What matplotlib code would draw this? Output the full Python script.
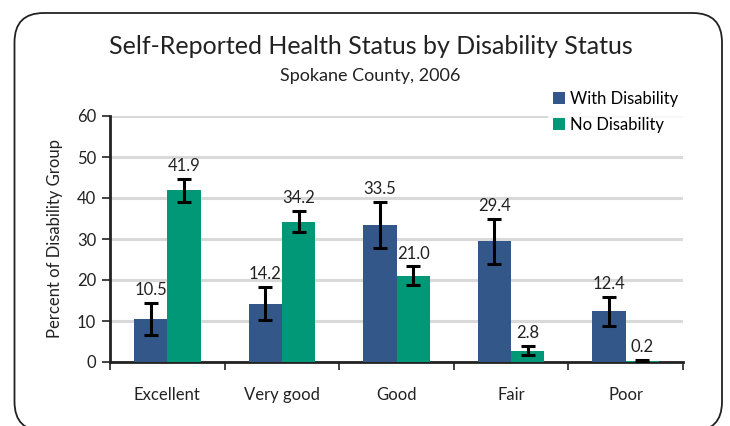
import matplotlib
matplotlib.use("Agg")
import matplotlib.pyplot as plt
import numpy as np
from matplotlib.patches import FancyBboxPatch

plt.rcParams['font.family'] = ['Lato', 'DejaVu Sans']

categories = ["Excellent", "Very good", "Good", "Fair", "Poor"]
with_dis = [10.5, 14.2, 33.5, 29.4, 12.4]
no_dis = [41.9, 34.2, 21.0, 2.8, 0.2]
with_err = [3.8, 4.0, 5.6, 5.4, 3.5]
no_err = [2.8, 2.6, 2.3, 1.0, 0.2]
series_names = ["With Disability", "No Disability"]
yticks = [0, 10, 20, 30, 40, 50, 60]

blue = "#34578A"
green = "#009877"

fig = plt.figure(figsize=(7.3, 4.26), dpi=100)
# rounded frame (bottom edge runs just past the image)
frame = FancyBboxPatch((14.5 / 730, 1 - 431 / 426), (722 - 14.5) / 730, (431 - 13) / 426,
                       boxstyle="round,pad=0,rounding_size=0.04",
                       transform=fig.transFigure, fill=False, edgecolor="#222222",
                       linewidth=1.3, mutation_aspect=730 / 426)
fig.patches.append(frame)

ax = fig.add_axes([110 / 730, 1 - 362 / 426, (683 - 110) / 730, (362 - 116) / 426])
x = np.arange(len(categories))
w = 0.29
b1 = ax.bar(x - w / 2, with_dis, w, color=blue, label=series_names[0], zorder=3)
b2 = ax.bar(x + w / 2, no_dis, w, color=green, label=series_names[1], zorder=3)
ekw = dict(fmt="none", ecolor="black", elinewidth=2.2, capsize=5, capthick=2.2, zorder=4)
ax.errorbar(x - w / 2, with_dis, yerr=with_err, **ekw)
ax.errorbar(x + w / 2, no_dis, yerr=no_err, **ekw)
for xi, v, e in zip(x - w / 2, with_dis, with_err):
    ax.text(xi, v + e + 1.2, f"{v:.1f}", ha="center", va="bottom", fontsize=12, color="#222222", zorder=5)
for xi, v, e in zip(x + w / 2, no_dis, no_err):
    ax.text(xi, v + e + 1.2, f"{v:.1f}", ha="center", va="bottom", fontsize=12, color="#222222", zorder=5)

ax.set_xlim(-0.5, len(categories) - 0.5)
ax.set_ylim(0, 60)
ax.set_yticks(yticks)
ax.set_yticklabels([str(t) for t in yticks], fontsize=12, color="#222222")
ax.yaxis.grid(True, color="#d9d9d9", linewidth=2.2, zorder=0)
ax.set_axisbelow(True)
ax.set_xticks(x)
ax.set_xticklabels(categories, fontsize=12, color="#222222")
ax.tick_params(axis="x", length=0, pad=18)
ax.set_xticks(np.arange(-0.5, len(categories)), minor=True)
ax.tick_params(axis="x", which="minor", length=6, width=1.2, direction="out", color="#222222")
ax.tick_params(axis="y", length=6, width=1.2, direction="out", color="#222222", pad=4)
for s in ["top", "right"]:
    ax.spines[s].set_visible(False)
ax.spines["left"].set_linewidth(2)
ax.spines["bottom"].set_linewidth(2)
ax.spines["left"].set_color("#222222")
ax.spines["bottom"].set_color("#222222")
ax.set_ylabel("Percent of Disability Group", fontsize=12, color="#222222", labelpad=10)

fig.text(0.5 * (108 + 633) / 730, 1 - 47 / 426, "Self-Reported Health Status by Disability Status",
         ha="center", va="center", fontsize=18, color="#222222")
fig.text(0.5 * (108 + 633) / 730, 1 - 76 / 426, "Spokane County, 2006",
         ha="center", va="center", fontsize=13, color="#222222")

leg = fig.legend(handles=[b1, b2], loc="upper left", bbox_to_anchor=(548 / 730, 1 - 86 / 426),
                 frameon=True, fontsize=12, handlelength=0.7, handleheight=0.7, handletextpad=0.3,
                 labelspacing=0.6, borderaxespad=0, borderpad=0.3, edgecolor="white", fancybox=False)
leg.get_frame().set_facecolor("white")
leg.get_frame().set_linewidth(0)

fig.savefig("out.png", dpi=100)
